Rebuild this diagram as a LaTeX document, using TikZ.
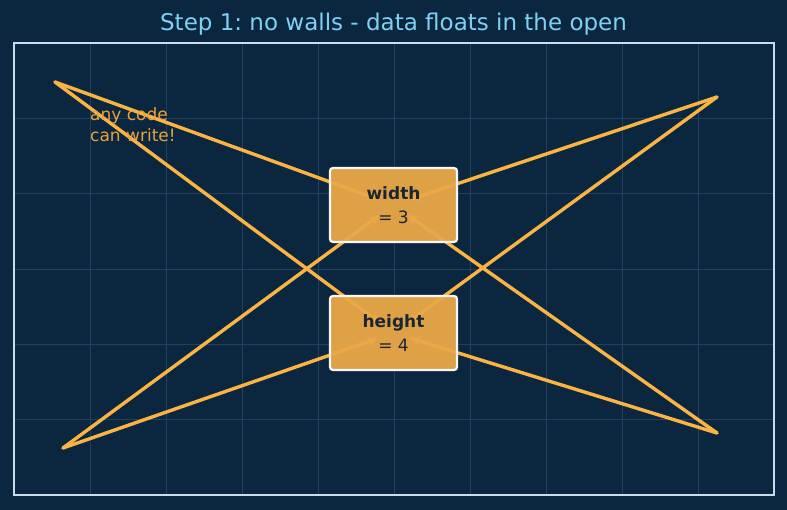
\documentclass[tikz,border=0pt]{standalone}
\usepackage{fontspec}
\setmainfont{DejaVu Sans}
\usetikzlibrary{arrows.meta}
\definecolor{bg}{HTML}{0B2740}
\definecolor{gridc}{HTML}{22415D}
\definecolor{framec}{HTML}{C8DDEB}
\definecolor{titlec}{HTML}{7FD0F5}
\definecolor{boxfill}{HTML}{EBA847}
\definecolor{boxtext}{HTML}{1B2633}
\definecolor{arrowc}{HTML}{FBB444}
\definecolor{notec}{HTML}{E9A23B}
\tikzset{
  gridline/.style={draw=gridc, line width=0.6pt},
  varbox/.style={draw=white!94!gray, line width=2.2pt, fill=boxfill, fill opacity=0.95, text opacity=1,
    rounded corners=3pt, minimum width=127pt, minimum height=74pt, inner sep=0pt,
    align=center, text=boxtext, font=\fontsize{17}{24}\selectfont},
  writer/.style={draw=arrowc, line width=3.4pt, line cap=round, line join=round,
    -{Stealth[length=10pt,width=9pt,inset=2pt]}, shorten >=17pt},
}
\begin{document}
\frenchspacing
\begin{tikzpicture}[x=1pt,y=-1pt]
\fill[bg] (0,0) rectangle (787,510);
\useasboundingbox (0,0) rectangle (787,510);
% grid
\foreach \x in {90,166,242,318,394,470,546,622,698}
  \draw[gridline] (\x,43) -- (\x,495);
\foreach \y in {118.3,193.7,269,344.3,419.7}
  \draw[gridline] (14,\y) -- (774,\y);
\draw[framec, line width=1.6pt] (14,43) rectangle (774,495);
% title
\node[text=titlec, font=\fontsize{23}{27}\selectfont, anchor=base] (title) at (393.5,31) {Step 1: no walls - data floats in the open};
% free ends
\coordinate (ul) at (55,82);
\coordinate (ur) at (717,97);
\coordinate (ll) at (63,448);
\coordinate (lr) at (717,433);
% box centres
\coordinate (wc) at (393.5,205);
\coordinate (hc) at (393.5,333);
\foreach \s in {ul,ur,ll,lr}{
  \draw[writer] (\s) -- (wc);
  \draw[writer] (\s) -- (hc);
}
% note
\node[text=notec, anchor=north west, align=left, inner sep=0pt, font=\fontsize{17}{21}\selectfont] (note) at (90,107.5) {any code\\can write!};
% boxes
\node[varbox] (w) at (wc) {\textbf{width}\\= 3};
\node[varbox] (h) at (hc) {\textbf{height}\\= 4};
\end{tikzpicture}
\end{document}
